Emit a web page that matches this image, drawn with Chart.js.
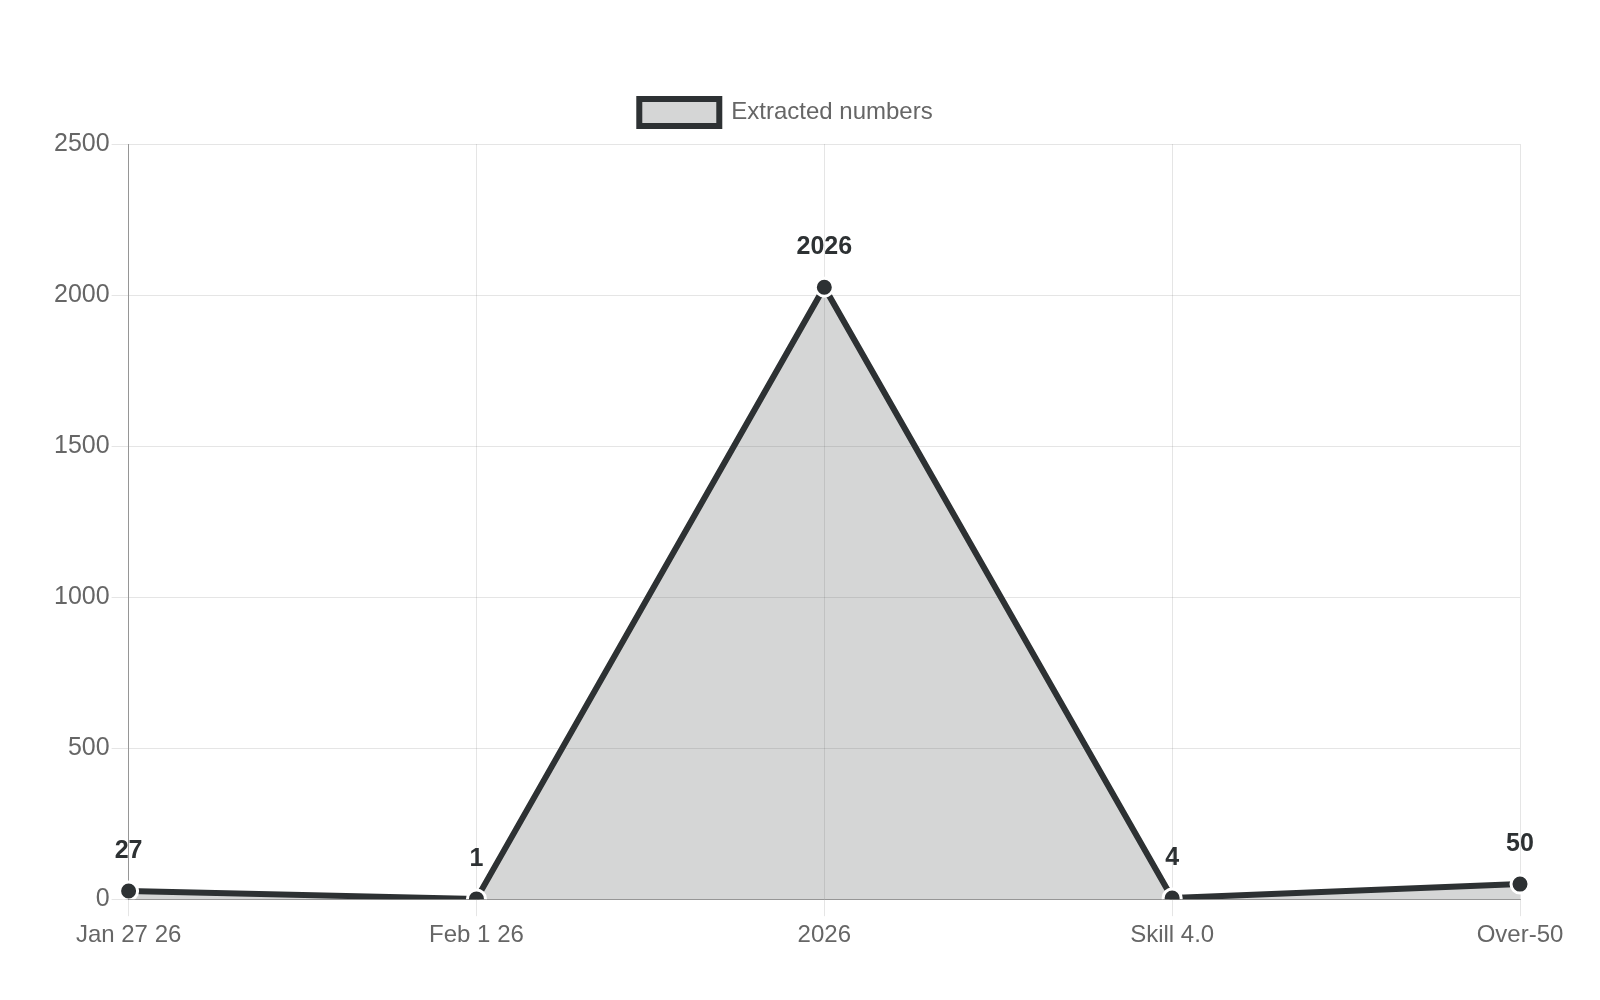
<!DOCTYPE html>
<html>
<head>
<meta charset="utf-8">
<script src="https://cdn.jsdelivr.net/npm/chart.js@4"></script>
<style>
  html, body { margin: 0; padding: 0; background: #fff; }
  #wrap { width: 1600px; height: 1000px; }
</style>
</head>
<body>
<div id="wrap"><canvas id="lineChart" width="1600" height="1000"></canvas></div>
<script>
// ===================== data =====================
const categories = ['Jan 27 26', 'Feb 1 26', '2026', 'Skill 4.0', 'Over-50'];
const extractedValues = [27, 1, 2026, 4, 50];
const seriesLabel = 'Extracted numbers';

// small inline plugin for the value labels above the points
const valueLabels = {
  id: 'valueLabels',
  afterDatasetsDraw(chart) {
    const ctx = chart.ctx;
    chart.data.datasets.forEach((ds, i) => {
      const meta = chart.getDatasetMeta(i);
      meta.data.forEach((pt, idx) => {
        ctx.save();
        ctx.font = 'bold 25px "Liberation Sans", Arial, sans-serif';
        ctx.fillStyle = '#2d3133';
        ctx.textAlign = 'center';
        ctx.textBaseline = 'middle';
        ctx.fillText(String(ds.data[idx]), pt.x, pt.y - 40);
        ctx.restore();
      });
    });
  }
};

// extra room under the legend
const legendMargin = {
  id: 'legendMargin',
  beforeInit(chart) {
    const origFit = chart.legend.fit;
    chart.legend.fit = function () {
      origFit.bind(chart.legend)();
      this.height += 8;
    };
  }
};

Chart.defaults.font.family = '"Liberation Sans", Arial, sans-serif';
Chart.defaults.color = '#666';

document.addEventListener('DOMContentLoaded', () => {
  const ctx = document.getElementById('lineChart').getContext('2d');
  new Chart(ctx, {
    type: 'line',
    data: {
      labels: categories,
      datasets: [{
        label: seriesLabel,
        data: extractedValues,
        borderColor: '#2d3133',
        backgroundColor: 'rgba(45, 49, 51, 0.2)',
        borderWidth: 6,
        fill: true,
        tension: 0,
        pointRadius: 9,
        pointBackgroundColor: '#2d3133',
        pointBorderColor: '#fff',
        pointBorderWidth: 3
      }]
    },
    options: {
      responsive: false,
      animation: false,
      layout: { padding: { top: 89, right: 80, bottom: 45, left: 52 } },
      plugins: {
        legend: {
          position: 'top',
          labels: { font: { size: 24 }, boxWidth: 80, boxHeight: 27, padding: 10 }
        },
        tooltip: { enabled: false }
      },
      scales: {
        x: {
          ticks: { font: { size: 24 }, padding: 5 },
          grid: { color: 'rgba(0,0,0,0.1)', tickLength: 17 },
          border: { color: 'rgba(0,0,0,0.35)' }
        },
        y: {
          min: 0,
          max: 2500,
          ticks: {
            stepSize: 500,
            font: { size: 25 },
            padding: 2,
            callback: v => String(v)
          },
          grid: { color: 'rgba(0,0,0,0.1)', tickLength: 17 },
          border: { color: 'rgba(0,0,0,0.35)' }
        }
      }
    },
    plugins: [valueLabels, legendMargin]
  });
});
</script>
</body>
</html>
